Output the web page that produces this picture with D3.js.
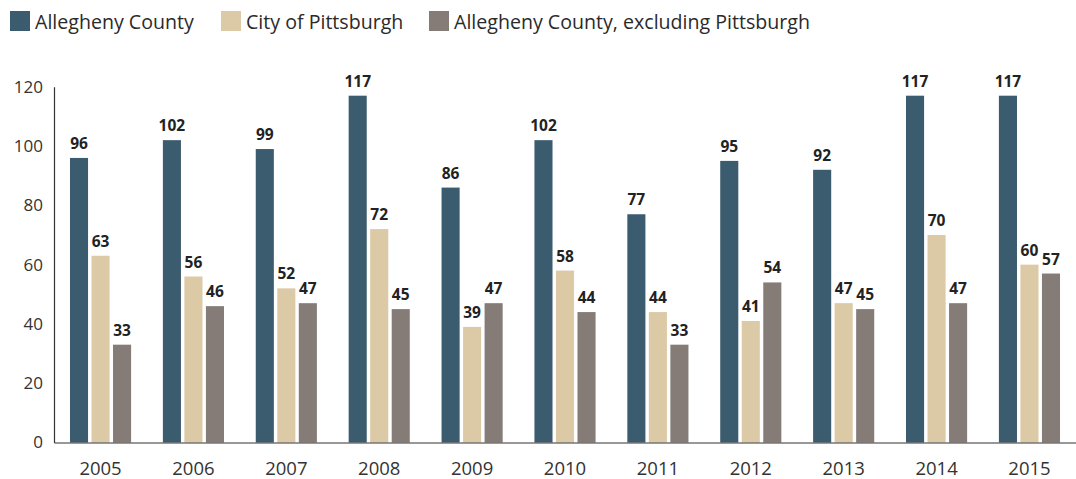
<!DOCTYPE html>
<html>
<head>
<meta charset="utf-8">
<script src="https://cdn.jsdelivr.net/npm/d3@7"></script>
<style>
  html, body { margin: 0; padding: 0; background: #fff; }
  svg { display: block; font-family: "Open Sans", "Lato", sans-serif; }
</style>
</head>
<body>
<svg id="chart" width="1076" height="479"></svg>
<script>
// Yearly counts, 2005–2015
const years = ["2005","2006","2007","2008","2009","2010","2011","2012","2013","2014","2015"];
const seriesNames = ["Allegheny County", "City of Pittsburgh", "Allegheny County, excluding Pittsburgh"];
const alleghenyCounty = [96, 102, 99, 117, 86, 102, 77, 95, 92, 117, 117];
const cityOfPittsburgh = [63, 56, 52, 72, 39, 58, 44, 41, 47, 70, 60];
const countyExclPittsburgh = [33, 46, 47, 45, 47, 44, 33, 54, 45, 47, 57];
const yTicks = [0, 20, 40, 60, 80, 100, 120];
const colors = ["#3b5b6e", "#dcc9a5", "#857b77"];

const seriesValues = [alleghenyCounty, cityOfPittsburgh, countyExclPittsburgh];

const svg = d3.select("#chart");
const W = 1076;
const axisX = 54, baseY = 442.5, topY = 86.8;

const x = d3.scaleBand().domain(years).range([axisX, W]).paddingInner(0.342).paddingOuter(0.172);
const xs = d3.scaleBand().domain(seriesNames).range([0, x.bandwidth()]).paddingInner(0.16);
const y = d3.scaleLinear().domain([0, 120]).range([baseY, topY]);

// Legend
const legendX = [10, 221, 429];
const legend = svg.append("g").attr("class", "legend");
seriesNames.forEach((name, i) => {
  const g = legend.append("g").attr("transform", `translate(${legendX[i]},0)`);
  g.append("rect").attr("x", 0).attr("y", 11).attr("width", 20).attr("height", 20).attr("fill", colors[i]);
  g.append("text").attr("x", 25).attr("y", 28.5).attr("font-size", 19.6).attr("fill", "#2a2a2a").text(name);
});

// Bars and value labels
const groups = svg.append("g").selectAll("g").data(years).join("g")
  .attr("transform", d => `translate(${x(d)},0)`);

seriesNames.forEach((name, si) => {
  groups.append("rect")
    .attr("x", xs(name))
    .attr("y", (d, i) => y(seriesValues[si][i]))
    .attr("width", xs.bandwidth())
    .attr("height", (d, i) => baseY - y(seriesValues[si][i]))
    .attr("fill", colors[si]);
  groups.append("text")
    .attr("x", xs(name) + xs.bandwidth() / 2)
    .attr("y", (d, i) => y(seriesValues[si][i]) - 9)
    .attr("text-anchor", "middle")
    .attr("font-size", 15.5)
    .attr("font-weight", 700)
    .attr("fill", "#222")
    .text((d, i) => seriesValues[si][i]);
});

// Y axis
const yAxis = svg.append("g").attr("transform", `translate(${axisX},0)`)
  .call(d3.axisLeft(y).tickValues(yTicks).tickSize(0).tickPadding(11));
yAxis.select(".domain").attr("stroke", "#333").attr("stroke-width", 1.2);
yAxis.selectAll("text").attr("font-size", 17).attr("fill", "#333").attr("font-family", "Open Sans, sans-serif");

// Baseline and year labels
const xAxis = svg.append("g").attr("transform", `translate(0,${baseY})`)
  .call(d3.axisBottom(x).tickSize(0).tickPadding(19));
xAxis.select(".domain").attr("stroke", "#333").attr("stroke-width", 1.2);
xAxis.selectAll("text").attr("font-size", 18.5).attr("fill", "#333").attr("font-family", "Open Sans, sans-serif");
</script>
</body>
</html>
